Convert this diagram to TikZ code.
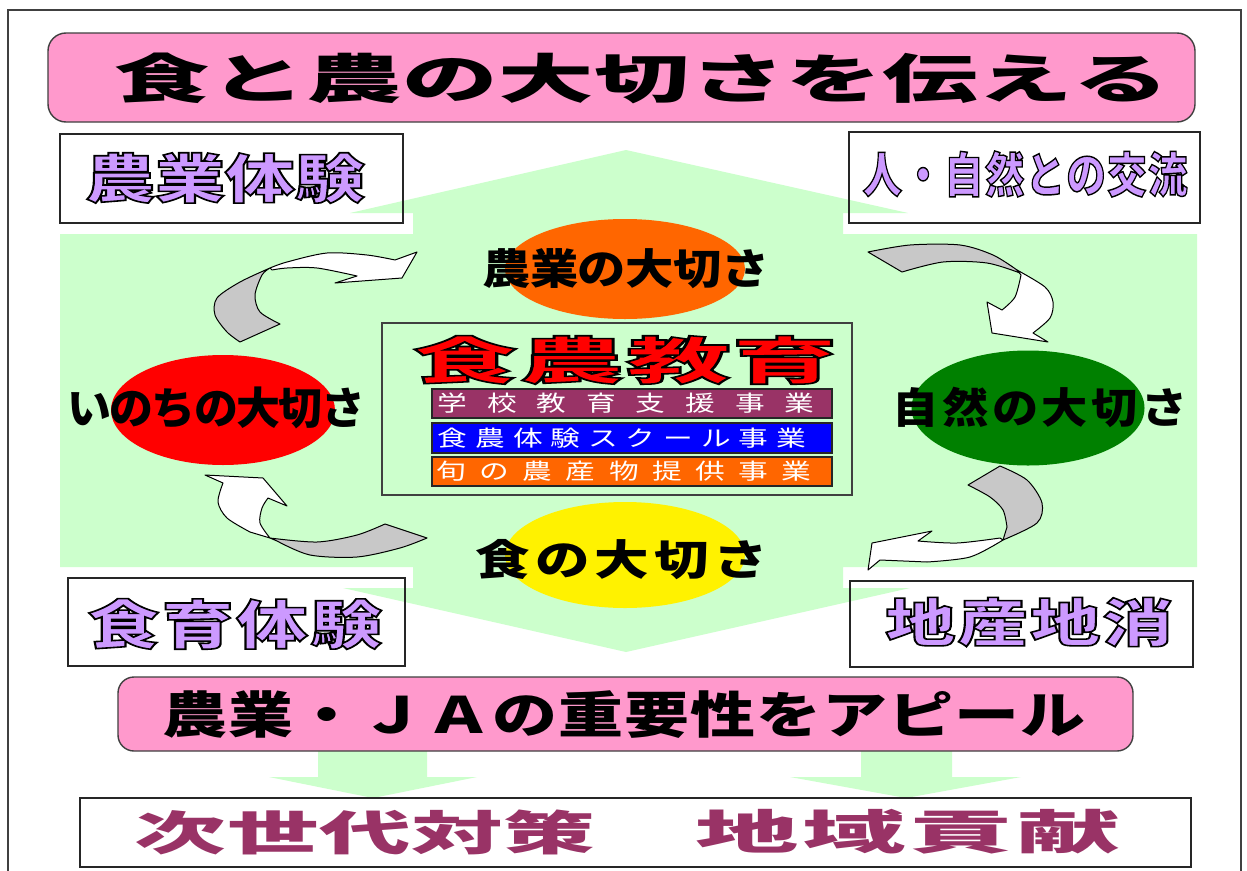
\documentclass[tikz,border=0pt]{standalone}
\usepackage{fontspec}
\usepackage{graphicx}
\usetikzlibrary{shapes.geometric}
\newfontfamily\jp{Noto Sans CJK JP}
\newfontfamily\jpo{Noto Sans CJK JP}[UprightFeatures={FakeBold=3},BoldFeatures={FakeBold=3}]
\makeatletter
\newcommand\spreadtext[2]{\makebox[#1][s]{\spr@first#2\relax}}
\def\spr@first#1{#1\spr@rest}
\def\spr@rest#1{\ifx#1\relax\else\hskip 0pt plus 1fil minus 1fil\relax#1\expandafter\spr@rest\fi}
\makeatother
\newcommand\fz[1]{\fontsize{#1}{#1}\selectfont}
\definecolor{pinkb}{HTML}{FF99CC}
\definecolor{lgreen}{HTML}{CCFFCC}
\definecolor{lav}{HTML}{CC99FF}
\definecolor{maroon}{HTML}{993366}
\definecolor{orng}{HTML}{FF6600}
\definecolor{dgreen}{HTML}{008000}
\definecolor{rgray}{HTML}{C8C8C8}
\definecolor{lineg}{HTML}{404040}
% outlined text: fill in #3, black stroke round the glyphs
\newcommand\olabel[4]{%
  \node[txt,text=#3] (#1) at (#2) {\jpo\special{pdf:literal direct 0 G}#4};}
\begin{document}
\begin{tikzpicture}[x=1pt,y=-1pt,
  txt/.style={inner sep=0pt,font=\jp},
  box/.style={draw=black!85,line width=1.4pt,inner sep=0pt},
  blob/.style={ellipse,inner sep=0pt},
  ribbon/.style={draw=black,line width=1pt,line join=round},
  bar/.style={draw=black!85,line width=1.4pt,inner sep=0pt,minimum width=400pt}]
\useasboundingbox (0,0) rectangle (1247,870);
\fill[white] (0,0) rectangle (1247,870);
\draw[lineg,line width=1.5pt] (8,10) rectangle (1241,900);

% top banner
\node[box,draw=lineg,fill=pinkb,rounded corners=18pt,minimum width=1147pt,minimum height=89pt] (banner) at (621.5,77.5) {};
\node[txt] (title) at (642,78) {\fz{53}\bfseries\scalebox{1.8}[1]{\spreadtext{586pt}{食と農の大切さを伝える}}};

% green background with up and down arrows
\fill[lgreen] (60,234) -- (413,234) -- (413,213) -- (350,213) -- (626,150) -- (908,213) -- (843,213) -- (843,234) -- (1197,234) -- (1197,567) -- (843,567) -- (843,588) -- (910,588) -- (626,652) -- (343,588) -- (413,588) -- (413,567) -- (60,567) -- cycle;

% corner boxes
\node[box,minimum width=343pt,minimum height=89pt] (b1) at (231.5,178.5) {};
\node[box,minimum width=351pt,minimum height=91pt] (b2) at (1024.5,177.5) {};
\node[box,minimum width=337pt,minimum height=88pt] (b3) at (236.5,622) {};
\node[box,minimum width=343pt,minimum height=86pt] (b4) at (1021.5,624) {};

% ellipses
\node[blob,fill=orng,minimum width=240pt,minimum height=100pt] (c1) at (625,269) {};
\node[blob,fill=red,minimum width=224pt,minimum height=110pt] (c2) at (223,410) {};
\node[blob,fill=dgreen,minimum width=233pt,minimum height=115pt] (c3) at (1028,408) {};
\node[blob,fill=yellow,minimum width=240pt,minimum height=106pt] (c4) at (625,555) {};

% curved arrows (top left)
\filldraw[ribbon,fill=rgray] plot[smooth] coordinates {(270,268) (240,282) (217,298) (215,315) (227,332) (240,342)} -- plot[smooth] coordinates {(280,324) (260,312) (255,295) (262,275) (270,268)} -- cycle;
\filldraw[ribbon,fill=white] plot[smooth] coordinates {(270,268) (287,262) (327,253) (367,255) (395,260)} -- (417,252) -- (402,278) -- (335,283) -- plot[smooth] coordinates {(357,276) (317,268) (287,268) (272,270)} -- cycle;
% top right
\filldraw[ribbon,fill=rgray] plot[smooth] coordinates {(868,252) (910,245) (960,245) (993,255) (1017,270)} -- plot[smooth] coordinates {(1020,273) (987,263) (943,262) (902,272)} -- cycle;
\filldraw[ribbon,fill=white] plot[smooth] coordinates {(1017,270) (1045,287) (1053,302) (1050,318) (1033,333)} -- (1048,342) -- (992,333) -- (987,302) -- plot[smooth] coordinates {(1002,310) (1015,297) (1021,275)} -- cycle;
% bottom left
\filldraw[ribbon,fill=rgray] plot[smooth] coordinates {(270,538) (317,542) (357,535) (385,524)} -- plot[smooth] coordinates {(427,538) (400,548) (357,557) (310,555) (277,541)} -- cycle;
\filldraw[ribbon,fill=white] (205,475) -- (263,478) -- (287,506) -- plot[smooth] coordinates {(268,498) (262,508) (260,523) (270,538)} -- plot[smooth] coordinates {(250,532) (227,518) (218,502) (223,483)} -- cycle;
% bottom right
\filldraw[ribbon,fill=rgray] (968,485) -- plot[smooth] coordinates {(1000,466) (1027,480) (1042,503) (1037,523) (1003,540)} -- plot[smooth] coordinates {(1007,527) (1003,510) (990,497) (968,485)} -- cycle;
\filldraw[ribbon,fill=white] plot[smooth] coordinates {(1003,540) (970,557) (927,562)} -- (880,560) -- (868,570) -- (872,543) -- (932,531) -- plot[smooth] coordinates {(918,541) (957,543) (1000,538)} -- cycle;

% central box
\node[box,draw=lineg,minimum width=470pt,minimum height=172pt] (core) at (617,409) {};
\node[bar,fill=maroon,minimum height=29pt] (bar1) at (632,403.5) {};
\node[bar,fill=blue,minimum height=30pt] (bar2) at (632,438) {};
\node[bar,fill=orng,minimum height=29pt] (bar3) at (632,471.5) {};
\olabel{coretitle}{625,360}{red}{\fz{51}\bfseries\scalebox{2.05}[1]{\spreadtext{207pt}{食農教育}}}
\node[txt,text=white] (tbar1) at (626,403) {\fz{22}\scalebox{1.35}[1]{\spreadtext{279pt}{学校教育支援事業}}};
\node[txt,text=white] (tbar2) at (622,438) {\fz{22}\scalebox{1.35}[1]{\spreadtext{273pt}{食農体験スクール事業}}};
\node[txt,text=white] (tbar3) at (624,471) {\fz{22}\scalebox{1.35}[1]{\spreadtext{278pt}{旬の農産物提供事業}}};

% circle labels
\node[txt] (l1) at (626,269) {\fz{42}\bfseries\scalebox{1.15}[1]{\spreadtext{250pt}{農業の大切さ}}};
\node[txt] (l2) at (216,408) {\fz{44}\bfseries\scalebox{1.0}[1]{\spreadtext{298pt}{いのちの大切さ}}};
\node[txt] (l3) at (1040,407) {\fz{42}\bfseries\scalebox{1.1}[1]{\spreadtext{268pt}{自然の大切さ}}};
\node[txt] (l4) at (622,560) {\fz{42}\bfseries\scalebox{1.3}[1]{\spreadtext{225pt}{食の大切さ}}};

% corner labels
\olabel{tb1}{225,178}{lav}{\fz{53}\bfseries\scalebox{1.32}[1]{\spreadtext{212pt}{農業体験}}}
\olabel{tb2}{1025,174}{lav}{\fz{48}\bfseries\scalebox{0.82}[1]{\spreadtext{396pt}{人・自然との交流}}}
\olabel{tb3}{235,624}{lav}{\fz{53}\bfseries\scalebox{1.35}[1]{\spreadtext{218pt}{食育体験}}}
\olabel{tb4}{1029,622}{lav}{\fz{52}\bfseries\scalebox{1.35}[1]{\spreadtext{213pt}{地産地消}}}

% bottom part
\fill[lgreen] (318,751) -- (318,777) -- (269,777) -- (373,798) -- (477,777) -- (427,777) -- (427,751) -- cycle;
\fill[lgreen] (861,751) -- (861,777) -- (790,777) -- (906,798) -- (1021,777) -- (952,777) -- (952,751) -- cycle;
\node[box,draw=lineg,fill=pinkb,rounded corners=16pt,minimum width=1015pt,minimum height=74pt] (appeal) at (625.5,714) {};
\node[txt] (appealtext) at (624,715) {\fz{50}\bfseries\scalebox{1.3}[1]{\spreadtext{710pt}{農業・ＪＡの重要性をアピール}}};
\node[box,fill=white,minimum width=1111pt,minimum height=69pt] (goal) at (635.5,832.5) {};
\node[txt,text=maroon] (goal1) at (365,832) {\fz{47}\bfseries\scalebox{1.95}[1]{\spreadtext{236pt}{次世代対策}}};
\node[txt,text=maroon] (goal2) at (908,832) {\fz{47}\bfseries\scalebox{2.2}[1]{\spreadtext{193pt}{地域貢献}}};
\end{tikzpicture}
\end{document}
